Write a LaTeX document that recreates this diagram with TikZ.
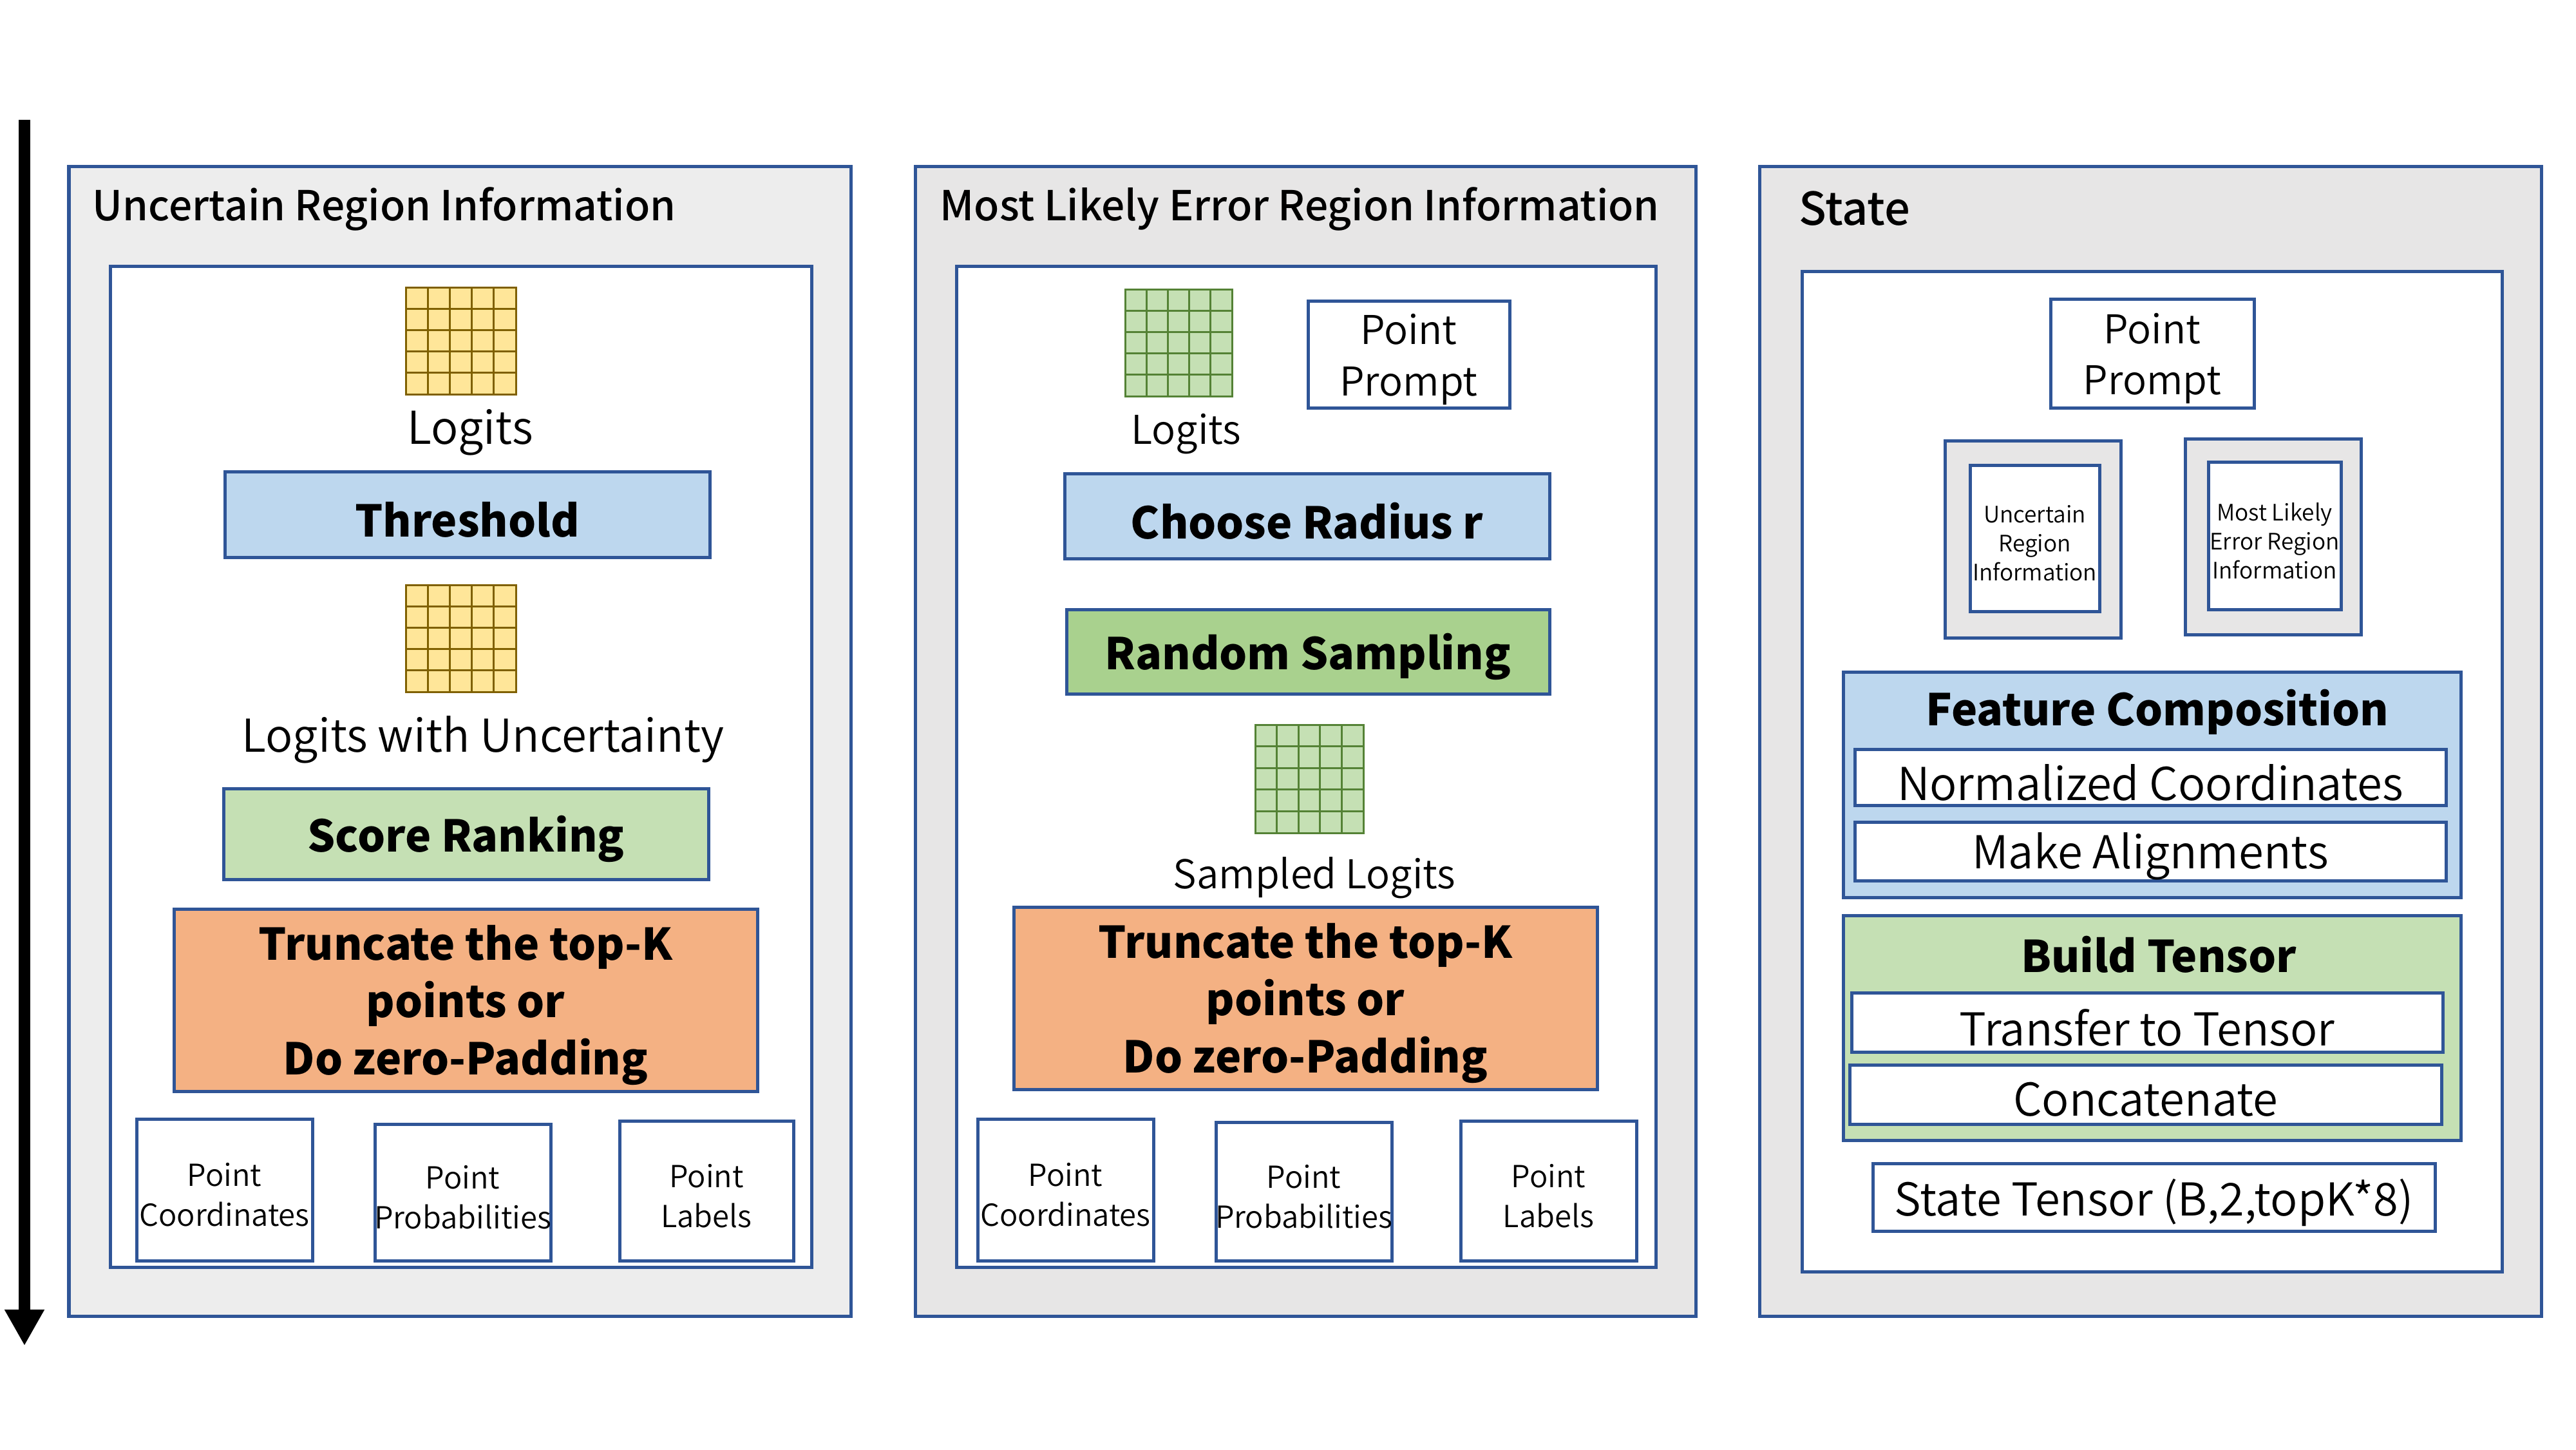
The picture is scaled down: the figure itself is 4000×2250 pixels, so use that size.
\documentclass[tikz,border=0pt]{standalone}
\usepackage{fontspec}
\setmainfont{Noto Sans CJK SC DemiLight}[BoldFont={Noto Sans CJK SC Medium}]
\newfontfamily\heavyfam{Noto Sans CJK SC}
\usetikzlibrary{arrows.meta,calc}
\definecolor{bordB}{HTML}{2F5597}
\definecolor{grayL}{HTML}{EDEDED}
\definecolor{grayM}{HTML}{E7E6E6}
\definecolor{blueF}{HTML}{BDD7EE}
\definecolor{greenF}{HTML}{C5E0B4}
\definecolor{greenD}{HTML}{A9D18E}
\definecolor{orangeF}{HTML}{F4B183}
\definecolor{yelF}{HTML}{FFE699}
\definecolor{yelB}{HTML}{7F6000}
\definecolor{grnB}{HTML}{548235}
\newcommand\fTitle{\fontsize{18.2pt}{21pt}\selectfont\bfseries}
\newcommand\fState{\fontsize{20pt}{24pt}\selectfont\bfseries}
\newcommand\fBold{\heavyfam\fontsize{19.3pt}{25.3pt}\selectfont\bfseries}
\newcommand\fReg{\fontsize{20pt}{22.5pt}\selectfont}
\newcommand\fPP{\fontsize{17.5pt}{22.5pt}\selectfont}
\newcommand\fSmall{\fontsize{13.4pt}{17.6pt}\selectfont}
\newcommand\fTiny{\fontsize{10pt}{12.8pt}\selectfont}
% box from corner (x1,y1) to (x2,y2) in pixels, text placed separately slightly lowered
\newcommand\bx[7]{%
  \node[#6, minimum width={(#4-(#2))*0.01cm}, minimum height={(#5-(#3))*0.01cm}] (#1) at ({((#2)+(#4))/2},{((#3)+(#5))/2}) {};
  \node[#6, draw=none, fill=none, minimum width=0pt, minimum height=0pt, yshift=-0.08cm] (#1-t) at (#1.center) {#7};}
\newcommand\gridlines[2]{%
  \foreach \i in {1,...,4}{%
    \draw[#2] ($(#1.north west)!\i/5!(#1.north east)$) -- ($(#1.south west)!\i/5!(#1.south east)$);
    \draw[#2] ($(#1.north west)!\i/5!(#1.south west)$) -- ($(#1.north east)!\i/5!(#1.south east)$);
  }}
\tikzset{
  base/.style={draw=bordB, line width=0.05cm, inner sep=0pt, outer sep=0pt, rectangle, align=center},
  panelL/.style={base, fill=grayL},
  panelM/.style={base, fill=grayM},
  inbox/.style={base, fill=white},
  wbox/.style={base, fill=white, font=\fReg},
  ppbox/.style={base, fill=white, font=\fPP},
  ptbox/.style={base, fill=white, font=\fSmall},
  tinybox/.style={base, fill=white, font=\fTiny},
  bluebox/.style={base, fill=blueF, font=\fBold},
  greenbox/.style={base, fill=greenF, font=\fBold},
  greendbox/.style={base, fill=greenD, font=\fBold},
  orangebox/.style={base, fill=orangeF, font=\fBold},
  gridY/.style={draw=yelB, fill=yelF, line width=0.03cm, inner sep=0pt, outer sep=0pt, rectangle},
  gridG/.style={draw=grnB, fill=greenF, line width=0.03cm, inner sep=0pt, outer sep=0pt, rectangle},
  txt/.style={inner sep=0pt, font=\fReg, align=center},
  ttl/.style={inner sep=0pt, font=\fTitle, anchor=west},
}
\begin{document}
\begin{tikzpicture}[x=0.01cm, y=-0.01cm]
\useasboundingbox (0,0) rectangle (4000,2250);
% time arrow
\coordinate (arTop) at (38,186);
\coordinate (arBot) at (38,2089);
\draw[line width=0.17cm, -{Triangle[width=0.58cm,length=0.56cm]}] (arTop) -- (arBot);

% ---------- Left panel ----------
\bx{Lout}{107}{258}{1321}{2043}{panelL}{}
\node[ttl] (Ltitle) at (143,324) {Uncertain Region Information};
\bx{Lin}{171}{413}{1260}{1967}{inbox}{}
\bx{Lg1}{630}{446}{801}{612}{gridY}{}
\gridlines{Lg1}{yelB, line width=0.03cm}
\node[txt] (Llog) at (730,671) {Logits};
\bx{Lthr}{349}{732}{1102}{865}{bluebox}{Threshold}
\bx{Lg2}{630}{908}{801}{1074}{gridY}{}
\gridlines{Lg2}{yelB, line width=0.03cm}
\node[txt] (Llwu) at (750,1148) {Logits with Uncertainty};
\bx{Lscore}{347}{1224}{1100}{1365}{greenbox}{Score Ranking}
\bx{Ltrunc}{270}{1411}{1176}{1694}{orangebox}{Truncate the top-K\\points or\\Do zero-Padding}
\bx{Lpc}{212}{1737}{485}{1957}{ptbox}{Point\\Coordinates}
\bx{Lpp}{582}{1745}{855}{1957}{ptbox}{Point\\Probabilities}
\bx{Lpl}{962}{1740}{1232}{1957}{ptbox}{Point\\Labels}

% ---------- Middle panel ----------
\bx{Mout}{1421}{258}{2633}{2043}{panelM}{}
\node[ttl] (Mtitle) at (1459,324) {Most Likely Error Region Information};
\bx{Min}{1485}{413}{2571}{1967}{inbox}{}
\bx{Mg1}{1747}{449}{1913}{615}{gridG}{}
\gridlines{Mg1}{grnB, line width=0.03cm}
\node[txt, font=\fPP] (Mlog) at (1842,674) {Logits};
\bx{Mpp}{2031}{467}{2344}{633}{ppbox}{Point\\Prompt}
\bx{Mrad}{1653}{735}{2406}{867}{bluebox}{Choose Radius r}
\bx{Mrs}{1656}{946}{2406}{1077}{greendbox}{Random Sampling}
\bx{Mg2}{1949}{1125}{2117}{1293}{gridG}{}
\gridlines{Mg2}{grnB, line width=0.03cm}
\node[txt, font=\fPP] (Msl) at (2041,1363) {Sampled Logits};
\bx{Mtrunc}{1574}{1408}{2480}{1691}{orangebox}{Truncate the top-K\\points or\\Do zero-Padding}
\bx{Mpc}{1518}{1737}{1791}{1957}{ptbox}{Point\\Coordinates}
\bx{Mpr}{1888}{1742}{2161}{1957}{ptbox}{Point\\Probabilities}
\bx{Mpl}{2268}{1740}{2541}{1957}{ptbox}{Point\\Labels}

% ---------- Right panel ----------
\bx{Rout}{2732}{258}{3946}{2043}{panelM}{}
\node[ttl, font=\fState] (Rtitle) at (2793,324) {State};
\bx{Rin}{2798}{421}{3885}{1974}{inbox}{}
\bx{Rpp}{3184}{464}{3500}{633}{ppbox}{Point\\Prompt}
\bx{Ru}{3020}{684}{3293}{990}{panelM}{}
\bx{Rui}{3059}{722}{3260}{949}{tinybox}{Uncertain\\Region\\Information}
\bx{Rm}{3393}{681}{3666}{985}{panelM}{}
\bx{Rmi}{3429}{717}{3635}{946}{tinybox}{Most Likely\\Error Region\\Information}
\bx{Rfc}{2862}{1043}{3821}{1393}{bluebox}{}
\node[txt, font=\fBold] (Rfct) at (3350,1105) {Feature Composition};
\bx{Rnc}{2880}{1163}{3798}{1250}{wbox}{Normalized Coordinates}
\bx{Rma}{2880}{1276}{3798}{1367}{wbox}{Make Alignments}
\bx{Rbt}{2862}{1421}{3821}{1770}{greenbox}{}
\node[txt, font=\fBold] (Rbtt) at (3352,1482) {Build Tensor};
\bx{Rtt}{2875}{1541}{3793}{1633}{wbox}{Transfer to Tensor}
\bx{Rcc}{2872}{1653}{3791}{1745}{wbox}{Concatenate}
\bx{Rst}{2908}{1806}{3781}{1911}{wbox}{State Tensor (B,2,topK*8)}
\end{tikzpicture}
\end{document}
